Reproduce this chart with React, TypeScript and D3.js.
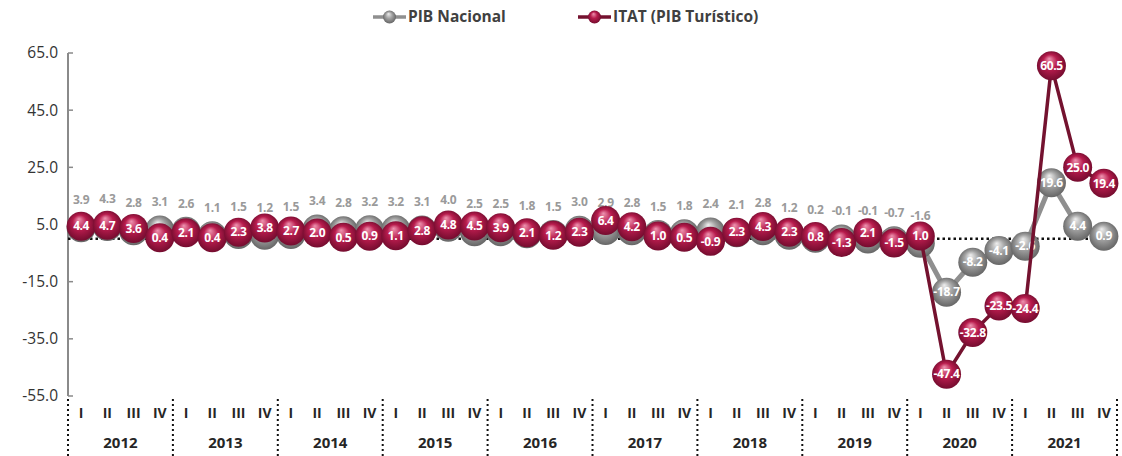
import React, { useRef, useEffect } from "react";
import * as d3 from "d3";

// quarterly growth, 2012 I .. 2021 IV
const years = ["2012", "2013", "2014", "2015", "2016", "2017", "2018", "2019", "2020", "2021"];
const quarters = ["I", "II", "III", "IV"];
const pibNacional = [
  3.9, 4.3, 2.8, 3.1,
  2.6, 1.1, 1.5, 1.2,
  1.5, 3.4, 2.8, 3.2,
  3.2, 3.1, 4.0, 2.5,
  2.5, 1.8, 1.5, 3.0,
  2.9, 2.8, 1.5, 1.8,
  2.4, 2.1, 2.8, 1.2,
  0.2, -0.1, -0.1, -0.7,
  -1.6, -18.7, -8.2, -4.1,
  -2.6, 19.6, 4.4, 0.9,
];
const itat = [
  4.4, 4.7, 3.6, 0.4,
  2.1, 0.4, 2.3, 3.8,
  2.7, 2.0, 0.5, 0.9,
  1.1, 2.8, 4.8, 4.5,
  3.9, 2.1, 1.2, 2.3,
  6.4, 4.2, 1.0, 0.5,
  -0.9, 2.3, 4.3, 2.3,
  0.8, -1.3, 2.1, -1.5,
  1.0, -47.4, -32.8, -23.5,
  -24.4, 60.5, 25.0, 19.4,
];
const yTicks = [65, 45, 25, 5, -15, -35, -55];
const seriesNames = ["PIB Nacional", "ITAT (PIB Turístico)"];

const W = 1122;
const H = 456;
const FONT = "'Open Sans', 'Noto Sans', sans-serif";
const fmt = d3.formatLocale({ decimal: ".", thousands: ",", grouping: [3], currency: ["", ""], minus: "-" }).format(".1f");

const App = () => {
  const ref = useRef<SVGSVGElement>(null);

  useEffect(() => {
    const svg = d3.select(ref.current);
    svg.selectAll("*").remove();

    const left = 68, right = 1117, top = 53, bottom = 396;
    const n = pibNacional.length;
    const x = d3.scaleBand<number>().domain(d3.range(n)).range([left, right]);
    const cx = (i: number) => (x(i) as number) + x.bandwidth() / 2;
    const y = d3.scaleLinear().domain([-55, 65]).range([bottom, top]);

    const defs = svg.append("defs");
    const grad = (id: string, c0: string, c1: string, c2: string) => {
      const g = defs.append("radialGradient").attr("id", id)
        .attr("cx", "50%").attr("cy", "50%").attr("r", "55%")
        .attr("fx", "42%").attr("fy", "25%");
      g.append("stop").attr("offset", "0%").attr("stop-color", c0);
      g.append("stop").attr("offset", "45%").attr("stop-color", c1);
      g.append("stop").attr("offset", "100%").attr("stop-color", c2);
    };
    grad("gGray", "#eeeeee", "#a3a3a3", "#5e5e5e");
    grad("gRed", "#ee93b0", "#b81c4d", "#6c0a2b");

    // y axis
    const ax = svg.append("g");
    ax.append("line").attr("x1", left).attr("x2", left).attr("y1", top).attr("y2", bottom)
      .attr("stroke", "#8a8a8a").attr("stroke-width", 2);
    yTicks.forEach(t => {
      ax.append("line").attr("x1", left).attr("x2", left + 5).attr("y1", y(t)).attr("y2", y(t))
        .attr("stroke", "#8a8a8a").attr("stroke-width", 1.5);
      ax.append("text").attr("x", left - 10).attr("y", y(t)).attr("dy", "0.35em")
        .attr("text-anchor", "end").style("font-family", FONT).style("font-size", "15.5px")
        .attr("fill", "#333").text(fmt(t));
    });

    // zero line
    svg.append("line").attr("x1", left).attr("x2", right).attr("y1", y(0)).attr("y2", y(0))
      .attr("stroke", "#111").attr("stroke-width", 2.5).attr("stroke-dasharray", "2.5,3");

    // x categories
    const cat = svg.append("g");
    const yw = x.bandwidth() * 4;
    years.forEach((yr, k) => {
      const x0 = left + k * yw;
      quarters.forEach((q, j) => {
        cat.append("text").attr("x", cx(k * 4 + j)).attr("y", 413).attr("dy", "0.35em")
          .attr("text-anchor", "middle").style("font-family", FONT).style("font-size", "14px")
          .style("font-weight", "bold").attr("fill", "#262626").text(q);
      });
      cat.append("text").attr("x", x0 + yw / 2).attr("y", 443).attr("dy", "0.35em")
        .attr("text-anchor", "middle").style("font-family", FONT).style("font-size", "15px")
        .style("font-weight", "bold").attr("fill", "#262626").text(yr);
    });
    d3.range(years.length + 1).forEach(k => {
      cat.append("line").attr("x1", left + k * yw).attr("x2", left + k * yw)
        .attr("y1", 399).attr("y2", 456)
        .attr("stroke", "#111").attr("stroke-width", 2).attr("stroke-dasharray", "2,3");
    });

    const line = d3.line<number>().x((d, i) => cx(i)).y(d => y(d));
    const R = 14.5;

    // PIB Nacional
    svg.append("path").datum(pibNacional).attr("d", line).attr("fill", "none")
      .attr("stroke", "#8f8f8f").attr("stroke-width", 5);
    svg.append("g").selectAll("circle").data(pibNacional).join("circle")
      .attr("cx", (d, i) => cx(i)).attr("cy", d => y(d)).attr("r", R)
      .attr("fill", "url(#gGray)");
    svg.append("g").selectAll("text").data(pibNacional).join("text")
      .attr("x", (d, i) => cx(i))
      .attr("y", (d, i) => (i < 33 ? y(d) - 28 : y(d)))
      .attr("dy", "0.35em").attr("text-anchor", "middle")
      .style("font-family", FONT).style("font-size", "12px").style("font-weight", "bold")
      .style("letter-spacing", "-0.3px")
      .attr("fill", (d, i) => (i < 33 ? "#9a9a9a" : "#ffffff"))
      .text(d => fmt(d));

    // ITAT
    svg.append("path").datum(itat).attr("d", line).attr("fill", "none")
      .attr("stroke", "#74122f").attr("stroke-width", 3.5);
    svg.append("g").selectAll("circle").data(itat).join("circle")
      .attr("cx", (d, i) => cx(i)).attr("cy", d => y(d)).attr("r", R)
      .attr("fill", "url(#gRed)");
    svg.append("g").selectAll("text").data(itat).join("text")
      .attr("x", (d, i) => cx(i)).attr("y", d => y(d))
      .attr("dy", "0.35em").attr("text-anchor", "middle")
      .style("font-family", FONT).style("font-size", "12px").style("font-weight", "bold")
      .style("letter-spacing", "-0.4px")
      .attr("fill", "#ffffff").text(d => fmt(d));

    // legend
    const leg = svg.append("g");
    const items = [
      { name: seriesNames[0], x: 373, stroke: "#8f8f8f", fill: "url(#gGray)" },
      { name: seriesNames[1], x: 578, stroke: "#74122f", fill: "url(#gRed)" },
    ];
    items.forEach(it => {
      leg.append("line").attr("x1", it.x).attr("x2", it.x + 33).attr("y1", 17).attr("y2", 17)
        .attr("stroke", it.stroke).attr("stroke-width", 3.5);
      leg.append("circle").attr("cx", it.x + 16.5).attr("cy", 17).attr("r", 6.5).attr("fill", it.fill);
      leg.append("text").attr("x", it.x + 35).attr("y", 17).attr("dy", "0.35em")
        .style("font-family", FONT).style("font-size", "15.5px").style("font-weight", "bold")
        .attr("fill", "#404040").text(it.name);
    });
  }, []);

  return (
    <svg ref={ref} width={W} height={H}
      style={{ position: "absolute", left: 0, top: 0, display: "block", background: "#fff" }} />
  );
};

export default App;
